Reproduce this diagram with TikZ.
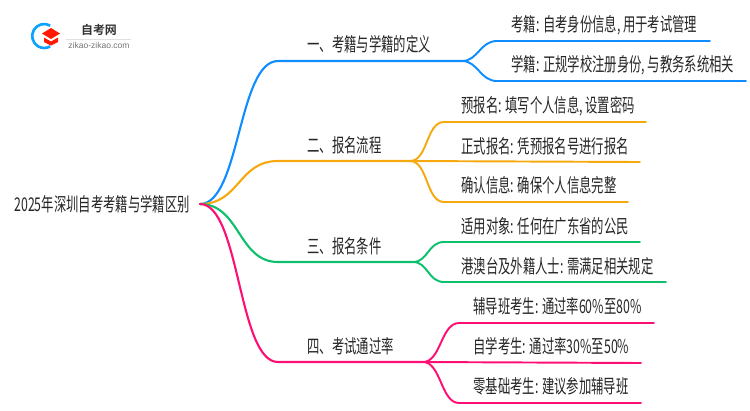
\documentclass[tikz,border=0pt]{standalone}
\usepackage{fontspec}
\setmainfont[FakeStretch=0.65]{Noto Sans CJK SC}
\newfontfamily\logotitlefont[BoldFont={Noto Sans CJK SC Bold}]{Noto Sans CJK SC}
\newfontfamily\logofont{Liberation Sans}
\usetikzlibrary{arrows.meta,calc}
\definecolor{branchblue}{HTML}{0F8CFF}
\definecolor{branchorange}{HTML}{F5A90F}
\definecolor{branchgreen}{HTML}{0CC06C}
\definecolor{branchpink}{HTML}{FF0F74}
\tikzset{
  branch/.style={line width=1.2pt,line cap=round},
  twig/.style={line width=1.1pt,line cap=round},
  label/.style={anchor=west,inner sep=0pt,font=\fontsize{10.8pt}{13pt}\selectfont,text=black!85},
  blue line/.style={draw=branchblue},
  orange line/.style={draw=branchorange},
  green line/.style={draw=branchgreen},
  pink line/.style={draw=branchpink}
}

\begin{document}
\begin{tikzpicture}[x=0.02cm,y=-0.02cm]
    \useasboundingbox (0,0) rectangle (750,410);
    % logo
    \draw[line width=1.5pt,draw=branchblue!80!cyan] (50.2,25.6) arc[start angle=-60,end angle=-300,radius=12];
    \fill[red!80!orange] (51,28) -- (60,33.5) -- (51,39) -- (42,33.5) -- cycle;
    \fill[red!80!orange] (44,37.5) -- (51,41.5) -- (58,37.5) -- (58,42) -- (51,45.5) -- (44,42) -- cycle;
    \node[inner sep=0pt,font=\logotitlefont\bfseries\fontsize{6.8pt}{8pt}\selectfont,text=black!80] (logotitle) at (99,30) {自考网};
    \draw[black!12,line width=0.3pt] (66,39) -- (131,39);
    \node[inner sep=0pt,font=\logofont\fontsize{4.85pt}{6pt}\selectfont,text=black!55] (logourl) at (99,45) {zikao-zikao.com};
    % root
    \node[label] (root) at (14,204) {2025年深圳自考考籍与学籍区别};
    \coordinate (start) at (200,204);
    % first level
    \node[label] (def) at (307,44) {一、考籍与学籍的定义};
    \node[label] (flow) at (307,145) {二、报名流程};
    \node[label] (cond) at (307,246) {三、报名条件};
    \node[label] (rate) at (307,346) {四、考试通过率};
    \coordinate (defa) at (278,61);
    \coordinate (defb) at (462,61);
    \coordinate (flowa) at (278,161);
    \coordinate (flowb) at (410,161);
    \coordinate (conda) at (278,262);
    \coordinate (condb) at (413,262);
    \coordinate (ratea) at (278,362);
    \coordinate (rateb) at (423,362);
    \draw[branch,blue line] (start) .. controls (240,204) and (238,61) .. (defa) -- (defb);
    \draw[branch,orange line] (start) .. controls (240,204) and (238,161) .. (flowa) -- (flowb);
    \draw[branch,green line] (start) .. controls (240,204) and (238,262) .. (conda) -- (condb);
    \draw[branch,pink line] (start) .. controls (240,204) and (238,362) .. (ratea) -- (rateb);
    % leaves
    \node[label] (defl1) at (511,25) {考籍: 自考身份信息, 用于考试管理};
    \node[label] (defl2) at (511,65) {学籍: 正规学校注册身份, 与教务系统相关};
    \node[label] (flowl1) at (461,106) {预报名: 填写个人信息, 设置密码};
    \node[label] (flowl2) at (461,146) {正式报名: 凭预报名号进行报名};
    \node[label] (flowl3) at (461,185) {确认信息: 确保个人信息完整};
    \node[label] (condl1) at (461,226) {适用对象: 任何在广东省的公民};
    \node[label] (condl2) at (461,266) {港澳台及外籍人士: 需满足相关规定};
    \node[label] (ratel1) at (473,306) {辅导班考生: 通过率60\%至80\%};
    \node[label] (ratel2) at (473,346) {自学考生: 通过率30\%至50\%};
    \node[label] (ratel3) at (473,386) {零基础考生: 建议参加辅导班};
    % twigs
    \coordinate (defe1) at (710,41);
    \coordinate (defe2) at (746,81);
    \coordinate (flowe1) at (646,122);
    \coordinate (flowe2) at (640,162);
    \coordinate (flowe3) at (628,202);
    \coordinate (conde1) at (640,242);
    \coordinate (conde2) at (666,282);
    \coordinate (ratee1) at (654,323);
    \coordinate (ratee2) at (641,363);
    \coordinate (ratee3) at (641,403);
    \draw[twig,blue line] (defb) .. controls (478,61) and (480,41) .. (497,41) -- (defe1);
    \draw[twig,blue line] (defb) .. controls (478,61) and (480,81) .. (497,81) -- (defe2);
    \draw[twig,orange line] (flowb) .. controls (428,161) and (426,122) .. (444,122) -- (flowe1);
    \draw[twig,orange line] (flowb) -- (flowe2);
    \draw[twig,orange line] (flowb) .. controls (428,161) and (426,202) .. (444,202) -- (flowe3);
    \draw[twig,green line] (condb) .. controls (428,262) and (428,242) .. (444,242) -- (conde1);
    \draw[twig,green line] (condb) .. controls (428,262) and (428,282) .. (444,282) -- (conde2);
    \draw[twig,pink line] (rateb) .. controls (441,362) and (441,323) .. (459,323) -- (ratee1);
    \draw[twig,pink line] (rateb) -- (ratee2);
    \draw[twig,pink line] (rateb) .. controls (441,362) and (441,403) .. (459,403) -- (ratee3);
\end{tikzpicture}
\end{document}
